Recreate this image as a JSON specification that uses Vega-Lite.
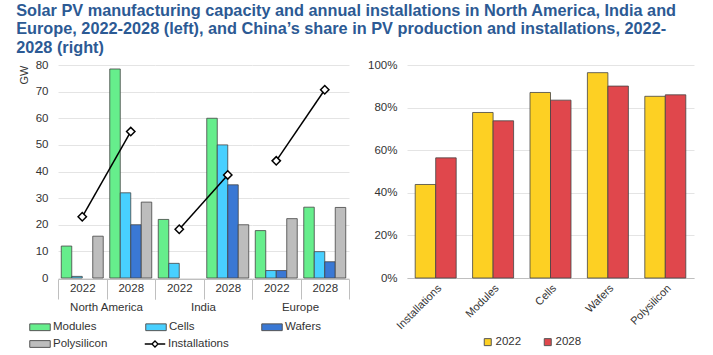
{
  "$schema": "https://vega.github.io/schema/vega-lite/v6.json",
  "background": "white",
  "padding": {"left": 16, "top": 2, "right": 5, "bottom": 0},
  "config": {
    "font": "Liberation Sans",
    "view": {"stroke": null},
    "axis": {"labelFont": "Liberation Sans", "labelFontSize": 11.5, "labelColor": "#333333", "gridColor": "#E4E4E4", "domainColor": "#BFBFBF", "tickColor": "#BFBFBF"},
    "legend": {"labelFont": "Liberation Sans", "labelFontSize": 11.5, "labelColor": "#333333", "symbolStrokeWidth": 1, "labelOffset": 2},
    "header": {"labelFont": "Liberation Sans"}
  },
  "title": {
    "text": ["Solar PV manufacturing capacity and annual installations in North America, India and", "Europe, 2022-2028 (left), and China’s share in PV production and installations, 2022-", "2028 (right)"],
    "anchor": "start",
    "font": "Liberation Sans",
    "fontSize": 16.3,
    "fontWeight": "bold",
    "color": "#2C5A94",
    "lineHeight": 18.5,
    "offset": 3,
    "dx": -2
  },
  "datasets": {
    "left": [
      {"region": "North America", "year": "2022", "series": "Modules", "value": 12},
      {"region": "North America", "year": "2022", "series": "Cells", "value": 0.6},
      {"region": "North America", "year": "2022", "series": "Polysilicon", "value": 15.7},
      {"region": "North America", "year": "2022", "series": "Installations", "value": 23},
      {"region": "North America", "year": "2028", "series": "Modules", "value": 78.5},
      {"region": "North America", "year": "2028", "series": "Cells", "value": 32},
      {"region": "North America", "year": "2028", "series": "Wafers", "value": 20},
      {"region": "North America", "year": "2028", "series": "Polysilicon", "value": 28.5},
      {"region": "North America", "year": "2028", "series": "Installations", "value": 55},
      {"region": "India", "year": "2022", "series": "Modules", "value": 22},
      {"region": "India", "year": "2022", "series": "Cells", "value": 5.5},
      {"region": "India", "year": "2022", "series": "Installations", "value": 18.3},
      {"region": "India", "year": "2028", "series": "Modules", "value": 60},
      {"region": "India", "year": "2028", "series": "Cells", "value": 50},
      {"region": "India", "year": "2028", "series": "Wafers", "value": 35},
      {"region": "India", "year": "2028", "series": "Polysilicon", "value": 20},
      {"region": "India", "year": "2028", "series": "Installations", "value": 38.7},
      {"region": "Europe", "year": "2022", "series": "Modules", "value": 17.8},
      {"region": "Europe", "year": "2022", "series": "Cells", "value": 2.8},
      {"region": "Europe", "year": "2022", "series": "Wafers", "value": 2.8},
      {"region": "Europe", "year": "2022", "series": "Polysilicon", "value": 22.3},
      {"region": "Europe", "year": "2022", "series": "Installations", "value": 44},
      {"region": "Europe", "year": "2028", "series": "Modules", "value": 26.6},
      {"region": "Europe", "year": "2028", "series": "Cells", "value": 9.9},
      {"region": "Europe", "year": "2028", "series": "Wafers", "value": 6.1},
      {"region": "Europe", "year": "2028", "series": "Polysilicon", "value": 26.5},
      {"region": "Europe", "year": "2028", "series": "Installations", "value": 70.7}
    ],
    "right": [
      {"cat": "Installations", "year": "2022", "share": 0.439},
      {"cat": "Installations", "year": "2028", "share": 0.564},
      {"cat": "Modules", "year": "2022", "share": 0.777},
      {"cat": "Modules", "year": "2028", "share": 0.738},
      {"cat": "Cells", "year": "2022", "share": 0.871},
      {"cat": "Cells", "year": "2028", "share": 0.835},
      {"cat": "Wafers", "year": "2022", "share": 0.964},
      {"cat": "Wafers", "year": "2028", "share": 0.901},
      {"cat": "Polysilicon", "year": "2022", "share": 0.853},
      {"cat": "Polysilicon", "year": "2028", "share": 0.86}
    ]
  },
  "spacing": 17,
  "resolve": {
    "scale": {"color": "independent", "xOffset": "independent", "x": "independent", "y": "independent"},
    "legend": {"color": "independent"}
  },
  "hconcat": [
    {
      "data": {"name": "left"},
      "facet": {
        "column": {
          "field": "region", "type": "nominal",
          "sort": ["North America", "India", "Europe"],
          "title": null,
          "header": {"labelOrient": "bottom", "labelFontSize": 11.5, "labelColor": "#333333", "labelPadding": 2}
        }
      },
      "spacing": 0,
      "spec": {
        "width": 97,
        "height": 213,
        "encoding": {
          "x": {
            "field": "year", "type": "nominal",
            "scale": {"paddingInner": 0, "paddingOuter": 0},
            "axis": {"title": null, "labelAngle": 0, "tickBand": "extent", "tickSize": 20, "labelPadding": -17}
          },
          "y": {"field": "value", "type": "quantitative",
            "scale": {"domain": [0, 80]},
            "axis": {"title": "GW", "titleAnchor": "end", "titleFontSize": 11, "titleFontWeight": "normal", "titleColor": "#333333", "titlePadding": 6,
              "values": [0, 10, 20, 30, 40, 50, 60, 70, 80], "domain": false, "ticks": false, "labelPadding": 10}}
        },
        "layer": [
          {
            "transform": [{"filter": "datum.series !== 'Installations'"}],
            "mark": {"type": "bar", "stroke": "#444444", "strokeWidth": 0.8},
            "encoding": {
              "xOffset": {"field": "series", "type": "nominal", "sort": ["Modules", "Cells", "Wafers", "Polysilicon"],
                "scale": {"domain": ["Modules", "Cells", "Wafers", "Polysilicon"], "paddingInner": 0, "paddingOuter": 0.31}},
              "color": {"field": "series", "type": "nominal",
                "scale": {"domain": ["Modules", "Cells", "Wafers", "Polysilicon"],
                  "range": ["#66EE8C", "#48D0FF", "#3A78D4", "#BDBDBD"]},
                "legend": {"title": null, "orient": "none", "legendX": -29, "legendY": 251, "direction": "horizontal", "columns": 3, "gridAlign": "all", "columnPadding": 35, "rowPadding": -3.5,
                  "symbolType": "M-1,-0.33H1V0.33H-1Z", "symbolSize": 420, "symbolStrokeColor": "#555555"}}
            }
          },
          {
            "transform": [{"filter": "datum.series === 'Installations'"}],
            "mark": {"type": "line", "color": "#000000", "strokeWidth": 1.5}
          },
          {
            "transform": [{"filter": "datum.series === 'Installations'"}],
            "mark": {"type": "point", "shape": "diamond", "filled": true, "fill": "#FFFFFF", "strokeWidth": 1.5, "size": 70, "opacity": 1},
            "encoding": {
              "stroke": {"field": "series", "type": "nominal",
                "scale": {"domain": ["Installations"], "range": ["#000000"]},
                "legend": {"title": null, "orient": "none", "legendX": 86, "legendY": 268,
                  "symbolType": "M-1,0H-0.3M0.3,0H1M0,-0.3L0.3,0L0,0.3L-0.3,0Z", "symbolSize": 420, "symbolFillColor": "#FFFFFF", "symbolStrokeWidth": 1.3}}
            }
          }
        ]
      }
    },
    {
      "data": {"name": "right"},
      "width": 287,
      "height": 213,
      "mark": {"type": "bar", "stroke": "#444444", "strokeWidth": 0.8},
      "encoding": {
        "x": {"field": "cat", "type": "nominal", "sort": ["Installations", "Modules", "Cells", "Wafers", "Polysilicon"],
          "scale": {"paddingInner": 0, "paddingOuter": 0},
          "axis": {"title": null, "labelAngle": -45, "labelFontSize": 11, "ticks": false, "labelPadding": 4}},
        "xOffset": {"field": "year", "type": "nominal", "scale": {"domain": ["2022", "2028"], "paddingInner": 0, "paddingOuter": 0.4}},
        "y": {"field": "share", "type": "quantitative", "scale": {"domain": [0, 1]},
          "axis": {"title": null, "format": ".0%", "values": [0, 0.2, 0.4, 0.6, 0.8, 1], "domain": false, "ticks": false, "labelPadding": 10}},
        "color": {"field": "year", "type": "nominal",
          "scale": {"domain": ["2022", "2028"], "range": ["#FDD023", "#E0474C"]},
          "legend": {"title": null, "orient": "none", "legendX": 75, "legendY": 271, "direction": "horizontal", "symbolType": "square", "symbolSize": 49, "columnPadding": 20, "symbolStrokeColor": "#555555"}}
      }
    }
  ]
}
